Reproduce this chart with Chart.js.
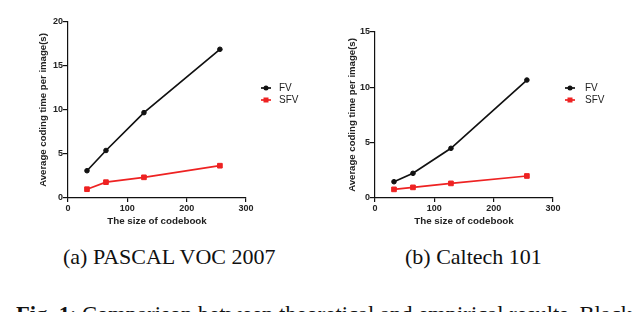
<!DOCTYPE html>
<html>
<head>
<meta charset="utf-8">
<script src="https://cdn.jsdelivr.net/npm/chart.js@4.4.1/dist/chart.umd.min.js"></script>
<style>
  html, body { margin: 0; padding: 0; background: #fff; overflow: hidden; }
  body { width: 640px; height: 312px; position: relative; }
  canvas { position: absolute; top: 0; }
  #c1 { left: 0; }
  #c2 { left: 320px; }
  .cap { position: absolute; font-family: "Liberation Serif", "Times New Roman", serif; font-size: 22px; color: #111; white-space: nowrap; }
</style>
</head>
<body>
<canvas id="c1" width="320" height="240"></canvas>
<canvas id="c2" width="320" height="240"></canvas>
<div class="cap" style="left:63px; top:244px;">(a) PASCAL VOC 2007</div>
<div class="cap" style="left:405px; top:244px;">(b) Caltech 101</div>
<div class="cap" style="left:16px; top:302px; font-size:22.6px;"><b>Fig. 1</b>: Comparison between theoretical and empirical results. Black</div>
<script>
const codebookSizes = [32, 64, 128, 256];
const series = ["FV", "SFV"];

// (a) PASCAL VOC 2007
const vocFV = [3.1, 5.4, 9.7, 16.9];
const vocSFV = [1.0, 1.8, 2.35, 3.67];

// (b) Caltech 101
const calFV = [1.47, 2.23, 4.49, 10.66];
const calSFV = [0.78, 0.96, 1.32, 1.99];

const xTitle = "The size of codebook";
const yTitle = "Average coding time per image(s)";

const COLORS = ["#111111", "#ee2222"];
const STYLES = ["circle", "rect"];
const RADII = [2.3, 3.3];
const FONT = "'Liberation Sans', Arial, sans-serif";

// small legend to the right of the plot: line + marker + label
const sideLegend = {
  id: "sideLegend",
  afterDraw(chart, args, opts) {
    const ctx = chart.ctx;
    const a = chart.chartArea;
    chart.data.datasets.forEach((ds, i) => {
      const y = opts.y + i * opts.gap;
      const x0 = a.right + opts.dx;
      ctx.save();
      ctx.strokeStyle = ds.borderColor;
      ctx.lineWidth = 1.7;
      ctx.beginPath();
      ctx.moveTo(x0, y);
      ctx.lineTo(x0 + 10, y);
      ctx.stroke();
      ctx.fillStyle = ds.borderColor;
      if (ds.pointStyle === "rect") {
        ctx.fillRect(x0 + 2.5, y - 2.5, 5, 5);
      } else {
        ctx.beginPath();
        ctx.arc(x0 + 5, y, 2.5, 0, Math.PI * 2);
        ctx.fill();
      }
      ctx.fillStyle = "#222";
      ctx.font = "10px " + FONT;
      ctx.textBaseline = "middle";
      ctx.fillText(ds.label, a.right + opts.tx, y);
      ctx.restore();
    });
  },
};

function makeChart(id, fv, sfv, yMax, box) {
  const data = [fv, sfv];
  return new Chart(document.getElementById(id), {
    type: "scatter",
    data: {
      datasets: series.map((name, i) => ({
        label: name,
        data: codebookSizes.map((x, j) => ({ x, y: data[i][j] })),
        showLine: true,
        borderColor: COLORS[i],
        backgroundColor: COLORS[i],
        borderWidth: 1.7,
        pointBorderWidth: 1,
        pointStyle: STYLES[i],
        pointRadius: RADII[i],
        pointHoverRadius: RADII[i],
      })),
    },
    options: {
      responsive: false,
      animation: false,
      devicePixelRatio: 1,
      layout: { padding: { left: 0, top: box.top, right: box.right, bottom: 0 } },
      plugins: {
        legend: { display: false },
        tooltip: { enabled: false },
        sideLegend: box.legend,
      },
      scales: {
        x: {
          type: "linear",
          min: 0,
          max: 300,
          afterFit: (s) => { s.height = 42; },
          border: { display: true, color: "#111", width: 1.2 },
          grid: { display: true, drawOnChartArea: false, drawTicks: true, tickLength: 4, color: "#111", lineWidth: 1.2 },
          ticks: { stepSize: 100, padding: 1, color: "#222", font: { family: FONT, size: 9, weight: "bold" } },
          title: { display: true, text: xTitle, color: "#222", padding: { top: 0, bottom: 13 }, font: { family: FONT, size: 9.8, weight: "bold" } },
        },
        y: {
          type: "linear",
          min: 0,
          max: yMax,
          afterFit: (s) => { s.width = box.left; },
          border: { display: true, color: "#111", width: 1.2 },
          grid: { display: true, drawOnChartArea: false, drawTicks: true, tickLength: 5, color: "#111", lineWidth: 1.2 },
          ticks: { stepSize: 5, padding: 0, color: "#222", font: { family: FONT, size: 9, weight: "bold" } },
          title: { display: true, text: yTitle, color: "#222", padding: { top: box.titleX - 5.9, bottom: 0 }, font: { family: FONT, size: 9.6, weight: "bold" } },
        },
      },
    },
    plugins: [sideLegend],
  });
}

makeChart("c1", vocFV, vocSFV, 20, {
  left: 68, top: 22, right: 74, titleX: 43,
  legend: { y: 88, gap: 12, dx: 15, tx: 33 },
});
makeChart("c2", calFV, calSFV, 15, {
  left: 55, top: 32, right: 87, titleX: 32,
  legend: { y: 88, gap: 12, dx: 12, tx: 32 },
});
</script>
</body>
</html>
